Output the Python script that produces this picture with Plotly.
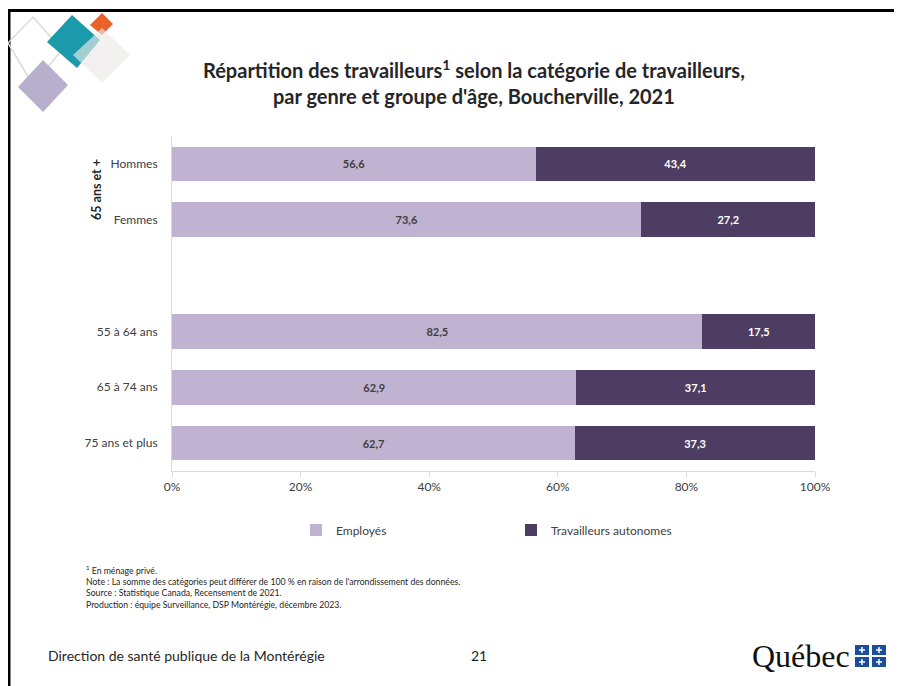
import plotly.graph_objects as go

W, H = 902, 686
OFF = 8  # page body margin in the browser

# Data
categories = ["Hommes", "Femmes", "55 à 64 ans", "65 à 74 ans", "75 ans et plus"]
axis_order = ["Hommes", "Femmes", " ", "55 à 64 ans", "65 à 74 ans", "75 ans et plus"]
employes = [56.6, 73.6, 82.5, 62.9, 62.7]
autonomes = [43.4, 27.2, 17.5, 37.1, 37.3]
x_ticks = [0, 20, 40, 60, 80, 100]
x_tick_labels = ["0%", "20%", "40%", "60%", "80%", "100%"]

FONT = "Lato, Open Sans, sans-serif"
LIGHT = "#C0B3D2"
DARK = "#4D3D63"


def px(x):
    return (x - OFF) / W


def py(y):
    return 1 - (y - OFF) / H


def fmt(vals):
    return [f"{v:.1f}".replace(".", ",") for v in vals]


fig = go.Figure()
fig.add_trace(go.Bar(
    y=categories, x=employes, orientation="h", name="Employés",
    marker=dict(color=LIGHT, line=dict(width=0)),
    text=fmt(employes), textposition="inside", insidetextanchor="middle",
    textfont=dict(family=FONT, size=11, color="#404040", weight="bold"),
    hoverinfo="skip", width=0.62,
))
fig.add_trace(go.Bar(
    y=categories, x=autonomes, orientation="h", name="Travailleurs autonomes",
    marker=dict(color=DARK, line=dict(width=0)),
    text=fmt(autonomes), textposition="inside", insidetextanchor="middle",
    textfont=dict(family=FONT, size=11, color="white", weight="bold"),
    hoverinfo="skip", width=0.62,
))

fig.update_layout(
    width=W, height=H,
    margin=dict(l=0, r=0, t=0, b=0, pad=0, autoexpand=False),
    paper_bgcolor="white", plot_bgcolor="white",
    barmode="stack", barnorm="percent",
    font=dict(family=FONT, size=11, color="#404040"),
    showlegend=True,
    legend=dict(orientation="h", x=px(296), y=py(530), xanchor="left", yanchor="middle",
                font=dict(size=12, color="#404040"), entrywidth=170, itemwidth=30,
                traceorder="normal", bgcolor="rgba(0,0,0,0)"),
    xaxis=dict(domain=[px(172), px(815)], range=[0, 100], tickvals=x_ticks,
               ticktext=x_tick_labels, showgrid=False, zeroline=False,
               showline=True, linecolor="#D9D9D9", linewidth=1,
               ticks="outside", ticklen=5, tickcolor="#D9D9D9", automargin=False,
               tickfont=dict(size=12, color="#404040"), fixedrange=True),
    yaxis=dict(domain=[py(471), py(136)], type="category",
               categoryorder="array", categoryarray=axis_order,
               tickvals=categories, ticktext=categories,
               range=[len(axis_order) - 0.5, -0.5],
               showgrid=False, zeroline=False,
               showline=True, linecolor="#D9D9D9", linewidth=1,
               ticks="", ticklabelstandoff=11, automargin=False,
               tickfont=dict(size=12, color="#404040"), fixedrange=True),
)

# Title
fig.add_annotation(
    x=px(474), y=py(82), xref="paper", yref="paper", showarrow=False,
    xanchor="center", yanchor="middle",
    text="Répartition des travailleurs<sup>1</sup> selon la catégorie de travailleurs,<br>par genre et groupe d'âge, Boucherville, 2021",
    font=dict(family=FONT, size=20, color="#262626", weight="bold"),
)

# Group label
fig.add_annotation(
    x=px(96), y=py(190), xref="paper", yref="paper", showarrow=False,
    xanchor="center", yanchor="middle",
    text="65 ans et +", textangle=-90,
    font=dict(family=FONT, size=12.5, color="#262626", weight="bold"),
)

# Footnotes
notes = ("<sup>1</sup> En ménage privé.<br>"
         "Note : La somme des catégories peut différer de 100 % en raison de l'arrondissement des données.<br>"
         "Source : Statistique Canada, Recensement de 2021.<br>"
         "Production : équipe Surveillance, DSP Montérégie, décembre 2023.")
fig.add_annotation(
    x=px(84), y=py(562), xref="paper", yref="paper", showarrow=False,
    xanchor="left", yanchor="top", align="left", text=notes,
    font=dict(family=FONT, size=8.7, color="#262626"),
)

# Footer
fig.add_annotation(x=px(46), y=py(655), xref="paper", yref="paper", showarrow=False,
                   xanchor="left", yanchor="middle",
                   text="Direction de santé publique de la Montérégie",
                   font=dict(family=FONT, size=14, color="#262626"))
fig.add_annotation(x=px(479), y=py(655), xref="paper", yref="paper", showarrow=False,
                   xanchor="center", yanchor="middle",
                   text="21", font=dict(family=FONT, size=14, color="#262626"))
fig.add_annotation(x=px(852), y=py(656), xref="paper", yref="paper", showarrow=False,
                   xanchor="right", yanchor="middle", text="Québec",
                   font=dict(family="Liberation Serif, serif", size=32, color="#111111"))

shapes = []

# Frame
shapes.append(dict(type="line", xref="paper", yref="paper", x0=px(9), x1=px(9),
                   y0=py(9), y1=0, line=dict(color="black", width=3)))
shapes.append(dict(type="line", xref="paper", yref="paper", x0=px(7.5), x1=1,
                   y0=py(10.5), y1=py(10.5), line=dict(color="black", width=3)))


def diamond(top, right, bottom, left, **kw):
    pts = [top, right, bottom, left]
    path = "M " + " L ".join(f"{px(a):.5f},{py(b):.5f}" for a, b in pts) + " Z"
    d = dict(type="path", xref="paper", yref="paper", path=path, layer="above")
    d.update(kw)
    return d


# Logo
shapes.append(diamond((33, 17), (62, 50), (33, 85), (8, 43),
                      line=dict(color="#D9DED2", width=1.5), fillcolor="rgba(0,0,0,0)"))
shapes.append(diamond((43, 60), (68, 85), (43, 112), (18, 87),
                      line=dict(width=0), fillcolor="#B8AFCC"))
shapes.append(diamond((72, 15), (100, 40), (77, 68), (47, 42),
                      line=dict(width=0), fillcolor="#1A9AAA"))
shapes.append(diamond((102, 13), (113, 24), (102, 35), (90, 25),
                      line=dict(width=0), fillcolor="#E8622A"))
shapes.append(diamond((102, 28), (130, 55), (102, 83), (73, 55),
                      line=dict(width=0), fillcolor="rgba(236,233,232,0.65)"))

# Québec flag squares with small white crosses
for x0, y0 in [(855, 645), (872, 645), (855, 657), (872, 657)]:
    shapes.append(dict(type="rect", xref="paper", yref="paper",
                       x0=px(x0), x1=px(x0 + 14), y0=py(y0), y1=py(y0 + 10),
                       fillcolor="#1B4F9C", line=dict(width=0)))
    cx, cy = x0 + 7, y0 + 5
    shapes.append(dict(type="line", xref="paper", yref="paper",
                       x0=px(cx - 3), x1=px(cx + 3), y0=py(cy), y1=py(cy),
                       line=dict(color="white", width=1.5)))
    shapes.append(dict(type="line", xref="paper", yref="paper",
                       x0=px(cx), x1=px(cx), y0=py(cy - 3), y1=py(cy + 3),
                       line=dict(color="white", width=1.5)))

fig.update_layout(shapes=shapes)

fig.write_html("out.html")
